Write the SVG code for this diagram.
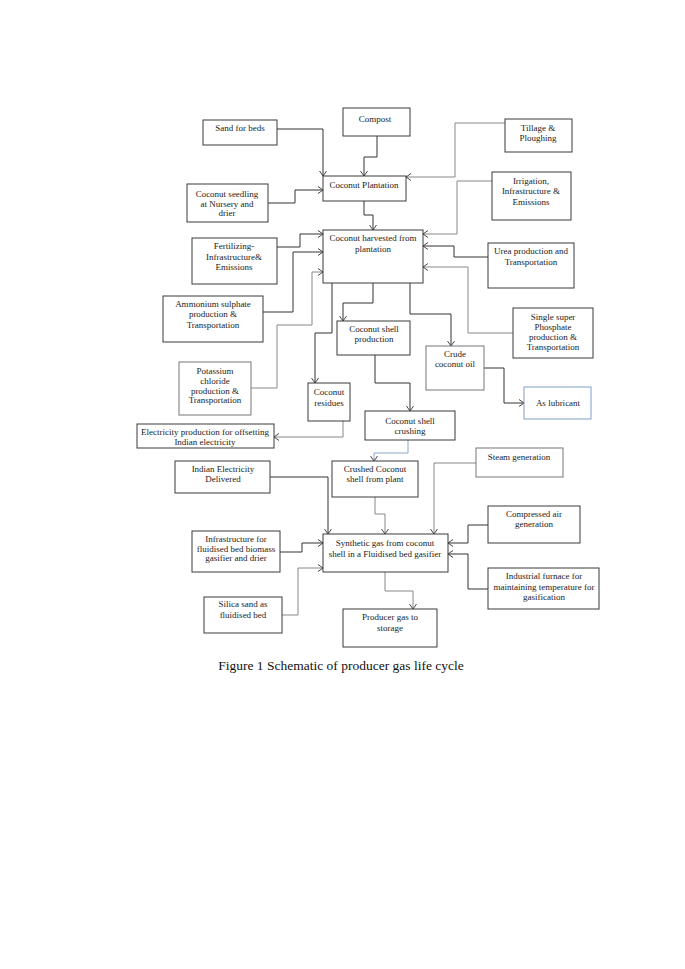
<svg xmlns="http://www.w3.org/2000/svg" width="685" height="969" viewBox="0 0 685 969">
<defs>
<marker id="ah" viewBox="0 0 6 8" refX="5.5" refY="4" markerWidth="6" markerHeight="8" markerUnits="userSpaceOnUse" orient="auto">
<path d="M0.5,0.5 L5.5,4 L0.5,7.5" fill="none" stroke="#333" stroke-width="0.9"/>
</marker>
</defs>
<style>
.b{fill:#fff;stroke:#3a3a3a;stroke-width:1}
.bl{fill:#fff;stroke:#777;stroke-width:1}
.bb{fill:#fff;stroke:#7f9fca;stroke-width:1}
text{font-family:"Liberation Serif","Times New Roman",serif;font-size:9px;fill:#222;text-anchor:middle}
.c{fill:none;stroke:#333;stroke-width:1;marker-end:url(#ah)}
.g{fill:none;stroke:#888;stroke-width:1;marker-end:url(#ah)}
.u{fill:none;stroke:#8aa6c8;stroke-width:1;marker-end:url(#ah)}
.cap{font-size:13.5px;fill:#111}
</style>
<rect width="685" height="969" fill="#fff"/>

<g id="connectors">
<path class="c" d="M277,129 H323 V176"/>
<path class="c" d="M377,136 V157 H364 V176"/>
<path class="c" d="M268,203 H295 V190 H323"/>
<path class="g" d="M505,123 H455 V177 H406"/>
<path class="c" d="M364,201 V215 H373 V230"/>
<path class="g" d="M492,181 H457 V234 H423"/>
<path class="c" d="M277,247 H300 V234 H323"/>
<path class="c" d="M263,312 H293 V252 H323"/>
<path class="g" d="M251,388 H277 V325 H312 V272 H323"/>
<path class="c" d="M488,257 H454 V246 H423"/>
<path class="g" d="M513,333 H468 V267 H423"/>
<path class="c" d="M332,283 V333 H315 V383"/>
<path class="c" d="M373,283 V303 H343 V321"/>
<path class="c" d="M410,283 V314 H451 V346"/>
<path class="c" d="M484,368 H504 V403 H524"/>
<path class="c" d="M375,355 V383 H410 V411"/>
<path class="g" d="M343,421 V437 H274"/>
<path class="u" d="M408,440 V453 H374 V461"/>
<path class="c" d="M270,477 H328 V534"/>
<path class="g" d="M375,497 V514 H385 V534"/>
<path class="g" d="M476,463 H434 V534"/>
<path class="c" d="M488,525 H468 V543 H448"/>
<path class="c" d="M488,589 H468 V554 H448"/>
<path class="c" d="M280,552 H302 V543 H323"/>
<path class="g" d="M282,615 H298 V568 H323"/>
<path class="g" d="M385,572 V591 H413 V609"/>
</g>

<g id="sand"><rect class="b" x="203" y="120" width="74" height="25"/><text x="240" y="131">Sand for beds</text></g>
<g id="compost"><rect class="b" x="343" y="108" width="67" height="28"/><text x="375" y="122">Compost</text></g>
<g id="tillage"><rect class="b" x="505" y="119" width="67" height="33"/><text x="538" y="131">Tillage &amp;</text><text x="538" y="141">Ploughing</text></g>
<g id="plantation"><rect class="b" x="323" y="176" width="83" height="25"/><text x="364" y="188">Coconut Plantation</text></g>
<g id="seedling"><rect class="b" x="187" y="184" width="81" height="38"/><text x="227" y="197">Coconut seedling</text><text x="227" y="207">at Nursery and</text><text x="227" y="216">drier</text></g>
<g id="irrigation"><rect class="b" x="492" y="172" width="79" height="48"/><text x="531" y="184">Irrigation,</text><text x="531" y="194">Infrastructure &amp;</text><text x="531" y="205">Emissions</text></g>
<g id="harvested"><rect class="b" x="323" y="230" width="100" height="53"/><text x="373" y="241">Coconut harvested from</text><text x="373" y="252">plantation</text></g>
<g id="fertilizing"><rect class="b" x="192" y="238" width="85" height="46"/><text x="234" y="249">Fertilizing-</text><text x="234" y="260">Infrastructure&amp;</text><text x="234" y="270">Emissions</text></g>
<g id="urea"><rect class="b" x="488" y="243" width="86" height="45"/><text x="531" y="254">Urea production and</text><text x="531" y="265">Transportation</text></g>
<g id="ammonium"><rect class="b" x="163" y="296" width="100" height="46"/><text x="213" y="307">Ammonium sulphate</text><text x="213" y="317">production &amp;</text><text x="213" y="328">Transportation</text></g>
<g id="superphosphate"><rect class="b" x="513" y="308" width="80" height="50"/><text x="553" y="320">Single super</text><text x="553" y="330">Phosphate</text><text x="553" y="340">production &amp;</text><text x="553" y="350">Transportation</text></g>
<g id="shellprod"><rect class="b" x="337" y="321" width="73" height="34"/><text x="374" y="332">Coconut shell</text><text x="374" y="342">production</text></g>
<g id="crude"><rect class="bl" x="426" y="346" width="58" height="44"/><text x="455" y="357">Crude</text><text x="455" y="367">coconut oil</text></g>
<g id="potassium"><rect class="bl" x="179" y="362" width="72" height="53"/><text x="215" y="374">Potassium</text><text x="215" y="384">chloride</text><text x="215" y="394">production &amp;</text><text x="215" y="403">Transportation</text></g>
<g id="residues"><rect class="b" x="308" y="383" width="42" height="38"/><text x="329" y="395">Coconut</text><text x="329" y="406">residues</text></g>
<g id="lubricant"><rect class="bb" x="524" y="387" width="67" height="32"/><text x="558" y="406">As lubricant</text></g>
<g id="crushing"><rect class="b" x="365" y="411" width="90" height="29"/><text x="410" y="424">Coconut shell</text><text x="410" y="434">crushing</text></g>
<g id="electricity"><rect class="b" x="137" y="424" width="137" height="24"/><text x="205" y="435">Electricity production for offsetting</text><text x="205" y="445">Indian electricity</text></g>
<g id="indian"><rect class="b" x="175" y="461" width="95" height="32"/><text x="223" y="472">Indian Electricity</text><text x="223" y="482">Delivered</text></g>
<g id="crushed"><rect class="b" x="332" y="461" width="86" height="36"/><text x="375" y="472">Crushed Coconut</text><text x="375" y="482">shell from plant</text></g>
<g id="steam"><rect class="bl" x="476" y="448" width="87" height="29"/><text x="519" y="460">Steam generation</text></g>
<g id="compressed"><rect class="b" x="488" y="506" width="92" height="37"/><text x="534" y="517">Compressed air</text><text x="534" y="527">generation</text></g>
<g id="infrastructure"><rect class="b" x="192" y="531" width="88" height="41"/><text x="236" y="542">Infrastructure for</text><text x="236" y="552">fluidised bed biomass</text><text x="236" y="561">gasifier and drier</text></g>
<g id="synthetic"><rect class="b" x="323" y="534" width="125" height="38"/><text x="385" y="546">Synthetic gas from coconut</text><text x="385" y="557">shell in a Fluidised bed gasifier</text></g>
<g id="furnace"><rect class="b" x="488" y="568" width="111" height="41"/><text x="544" y="579">Industrial furnace for</text><text x="544" y="590">maintaining temperature for</text><text x="544" y="600">gasification</text></g>
<g id="silica"><rect class="b" x="204" y="597" width="78" height="36"/><text x="243" y="607">Silica sand as</text><text x="243" y="618">fluidised bed</text></g>
<g id="producer"><rect class="b" x="343" y="609" width="94" height="38"/><text x="390" y="620">Producer gas to</text><text x="390" y="631">storage</text></g>

<text class="cap" x="341" y="670">Figure 1 Schematic of producer gas life cycle</text>
</svg>
